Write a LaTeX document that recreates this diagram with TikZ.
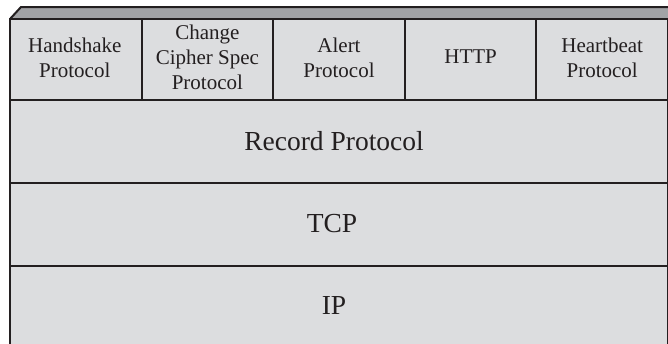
\documentclass[tikz,border=0pt]{standalone}
\usepackage{fontspec}
\setmainfont{Liberation Serif}
\definecolor{facegray}{RGB}{220,221,223}
\definecolor{bandgray}{RGB}{162,163,166}
\definecolor{ink}{RGB}{35,31,32}
\tikzset{
  cell/.style={draw=ink, line width=2pt, fill=facegray, minimum width=131.6pt,
    minimum height=81pt, inner sep=0pt},
  celltext/.style={inner sep=0pt, align=center, text=ink,
    font=\fontsize{21}{24.8}\selectfont},
  layer/.style={draw=ink, line width=2pt, fill=facegray, minimum width=658pt,
    minimum height=83pt, inner sep=0pt},
  layertext/.style={inner sep=0pt, text=ink,
    font=\fontsize{27.5}{30}\selectfont}
}
\begin{document}
\begin{tikzpicture}[x=1pt,y=-1pt]
\useasboundingbox (0,0) rectangle (668,343);
% top bevel band
\fill[bandgray] (10,19) -- (21,7) -- (690,7) -- (690,19) -- cycle;
\draw[ink, line width=2pt] (10,19) -- (21,7) -- (690,7);
% layers
\node[layer] (record) at (339,141.5) {};
\node[layer] (tcp) at (339,224.5) {};
\node[layer] (ip) at (339,307.5) {};
\node[layertext] (recordt) at ([xshift=-5pt,yshift=0.5pt]record.center) {Record Protocol};
\node[layertext] (tcpt) at ([xshift=-7pt,yshift=1pt]tcp.center) {TCP};
\node[layertext] (ipt) at ([xshift=-5pt,yshift=2pt]ip.center) {IP};
% top row cells
\node[cell] (hs) at (75.8,59.5) {};
\node[cell] (ccs) at (207.4,59.5) {};
\node[cell] (alert) at (339,59.5) {};
\node[cell] (http) at (470.6,59.5) {};
\node[cell] (hb) at (602.2,59.5) {};
\node[celltext] (hst) at ([xshift=-1pt,yshift=2pt]hs.center) {Handshake\\Protocol};
\node[celltext] (ccst) at ([yshift=2pt]ccs.center) {Change\\Cipher Spec\\Protocol};
\node[celltext] (alertt) at ([yshift=2pt]alert.center) {Alert\\Protocol};
\node[celltext] (httpt) at ([yshift=2.5pt]http.center) {HTTP};
\node[celltext] (hbt) at ([yshift=2pt]hb.center) {Heartbeat\\Protocol};
\end{tikzpicture}
\end{document}
